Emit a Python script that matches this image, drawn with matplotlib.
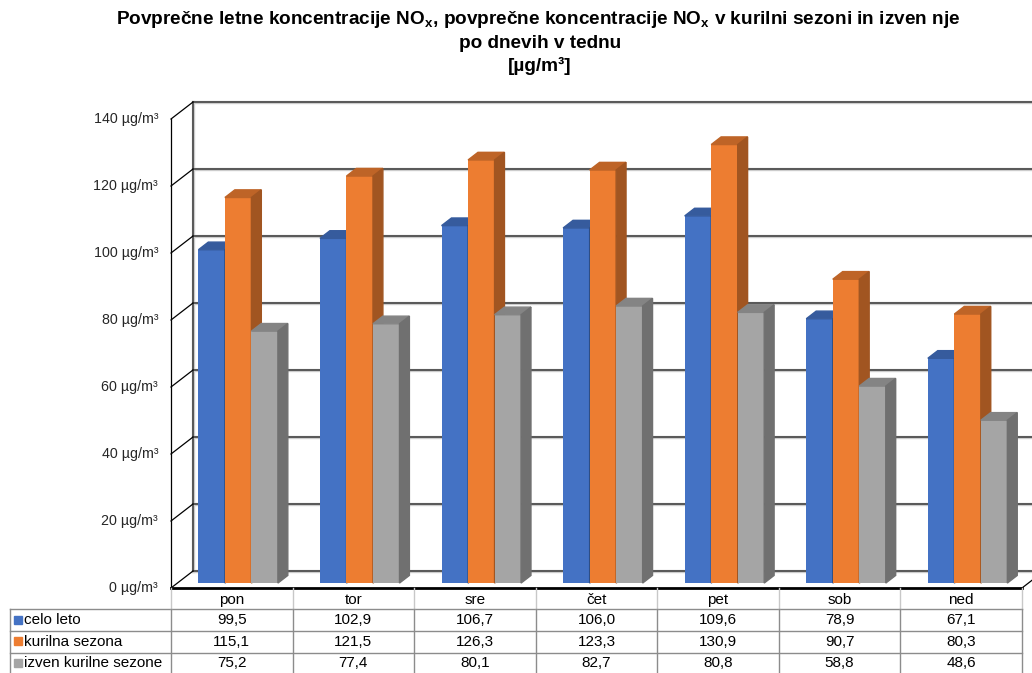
import numpy as np
import matplotlib.pyplot as plt
from matplotlib.patches import Polygon, Rectangle
from matplotlib.transforms import blended_transform_factory
from matplotlib.colors import to_rgb

days = ['pon', 'tor', 'sre', 'čet', 'pet', 'sob', 'ned']
series = ['celo leto', 'kurilna sezona', 'izven kurilne sezone']
celo_leto = [99.5, 102.9, 106.7, 106.0, 109.6, 78.9, 67.1]
kurilna = [115.1, 121.5, 126.3, 123.3, 130.9, 90.7, 80.3]
izven = [75.2, 77.4, 80.1, 82.7, 80.8, 58.8, 48.6]
colors = ['#4472C4', '#ED7D31', '#A5A5A5']
yticks = np.arange(0, 141, 20)

plt.rcParams['font.family'] = ['Liberation Sans', 'DejaVu Sans']

W, H = 1032, 673
fig = plt.figure(figsize=(W / 100, H / 100), dpi=100)

# front plane of the 3d box, in pixels
x0, x1 = 171, 1022
ybot, ytop = 588, 119
ax = fig.add_axes([x0 / W, 1 - ybot / H, (x1 - x0) / W, (ybot - ytop) / H])
ax.set_xlim(0, len(days))
ax.set_ylim(0, 140)
ax.axis('off')

# overlay in pixel coords for title and table
tab = fig.add_axes([0, 0, 1, 1])
tab.set_xlim(0, W)
tab.set_ylim(H, 0)
tab.axis('off')
tab.patch.set_visible(False)

n = len(days)
DX, DY = 0.181, 5.07   # depth of the box in data units


def wall_line(xs, ys):
    ax.plot(xs, ys, color='#cccccc', lw=2.4, clip_on=False, zorder=1)
    ax.plot(xs, ys, color='#383838', lw=1.1, clip_on=False, zorder=1.1)


# back wall gridlines + left wall
for v in yticks:
    wall_line([DX, n + DX + 0.3], [v + DY, v + DY])
    ax.plot([0, DX], [v, v + DY], color='k', lw=0.9, clip_on=False, zorder=1.2)
    ax.annotate(f'{v} µg/m³', (0, v), xytext=(-13, 0), textcoords='offset pixels',
                ha='right', va='center', fontsize=10.3, color='#262626',
                annotation_clip=False)
wall_line([DX, DX], [DY, 140 + DY])
ax.plot([0, 0], [0, 140], color='k', lw=0.9, clip_on=False, zorder=1.2)
ax.plot([n, n + DX], [0, DY], color='k', lw=0.9, clip_on=False, zorder=1.2)

# 3d bars
bw = 0.218
f0, f1 = 0.29, 0.74
ddx, ddy = (f1 - f0) * DX, (f1 - f0) * DY
for i in range(n):
    for j, vals in enumerate([celo_leto, kurilna, izven]):
        h = vals[i]
        left = i + 0.5 - 1.5 * bw + j * bw + f0 * DX
        b = f0 * DY
        c = np.array(to_rgb(colors[j]))
        ax.bar(left, h, bw, bottom=b, align='edge', color=colors[j], zorder=3, clip_on=False)
        ax.add_patch(Polygon([(left, b + h), (left + bw, b + h), (left + bw + ddx, b + h + ddy),
                              (left + ddx, b + h + ddy)], closed=True, color=c * 0.8,
                             zorder=3, clip_on=False))
        ax.add_patch(Polygon([(left + bw, b), (left + bw + ddx, b + ddy),
                              (left + bw + ddx, b + h + ddy), (left + bw, b + h)], closed=True,
                             color=c * 0.68, zorder=3, clip_on=False))

# floor front edge
ax.plot([0, n], [0, 0], color='k', lw=2, clip_on=False, zorder=4)

# data table
bt = blended_transform_factory(ax.transData, tab.transData)
row_lines = [608.5, 630.5, 652.5]
row_mid = [620, 641.5, 663]
grid_c = '#8c8c8c'
for y in row_lines:
    tab.plot([10, x1], [y, y], color=grid_c, lw=1)
tab.plot([10, 10], [row_lines[0], H], color=grid_c, lw=1)
for i in range(n + 1):
    tab.plot([i, i], [ybot, row_lines[0]], color='#c8c8c8', lw=1, transform=bt)
    tab.plot([i, i], [row_lines[0], H], color=grid_c, lw=1, transform=bt)
for i, d in enumerate(days):
    tab.text(i + 0.5, 600, d, ha='center', va='center', fontsize=11, transform=bt)
for j, (name, vals) in enumerate(zip(series, [celo_leto, kurilna, izven])):
    y = row_mid[j]
    tab.add_patch(Rectangle((14, y - 4.5), 8, 8, color=colors[j]))
    tab.text(24, y, name, ha='left', va='center', fontsize=11)
    for i, v in enumerate(vals):
        tab.text(i + 0.5, y, f'{v:.1f}'.replace('.', ','), ha='center', va='center',
                 fontsize=11, transform=bt)

# title
tfont = dict(ha='center', va='center', fontsize=13.7, fontweight='bold',
             family=['Liberation Sans Narrow', 'Liberation Sans'])
tab.text(538, 20, r'Povprečne letne koncentracije NO$_\mathregular{x}$, povprečne koncentracije '
         r'NO$_\mathregular{x}$ v kurilni sezoni in izven nje', **tfont)
tab.text(540, 44, 'po dnevih v tednu', **tfont)
tab.text(540, 66, '[µg/m³]', **tfont)

fig.savefig('out.png', dpi=100)
